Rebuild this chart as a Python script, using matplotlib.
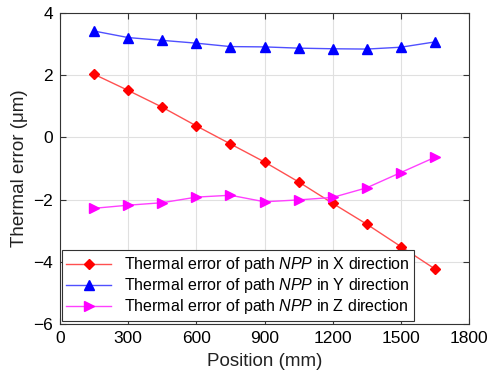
import matplotlib
matplotlib.use("Agg")
import matplotlib.pyplot as plt

plt.rcParams['font.family'] = ['Liberation Sans', 'DejaVu Sans']
plt.rcParams['mathtext.fontset'] = 'custom'
plt.rcParams['mathtext.it'] = 'Liberation Sans:italic'
plt.rcParams['mathtext.rm'] = 'Liberation Sans'

positions = [150, 300, 450, 600, 750, 900, 1050, 1200, 1350, 1500, 1650]
err_x = [2.03, 1.51, 0.97, 0.37, -0.21, -0.79, -1.43, -2.12, -2.79, -3.51, -4.23]
err_y = [3.42, 3.21, 3.12, 3.03, 2.92, 2.91, 2.87, 2.85, 2.84, 2.90, 3.07]
err_z = [-2.28, -2.18, -2.10, -1.92, -1.86, -2.07, -2.01, -1.93, -1.62, -1.13, -0.64]
labels = ["Thermal error of path $\\it{NPP}$ in X direction",
          "Thermal error of path $\\it{NPP}$ in Y direction",
          "Thermal error of path $\\it{NPP}$ in Z direction"]
xticks = [0, 300, 600, 900, 1200, 1500, 1800]
yticks = [-6, -4, -2, 0, 2, 4]

fig = plt.figure(figsize=(4.94, 3.81), dpi=100)
ax = fig.add_axes([60/494, 1-324/381, 409/494, 311/381])

ax.plot(positions, err_x, color='#ff5050', lw=1.0, marker='D', ms=5.5,
        mfc='red', mec='red', label=labels[0])
ax.plot(positions, err_y, color='#5050ff', lw=1.0, marker='^', ms=6.5,
        mfc='blue', mec='blue', label=labels[1])
ax.plot(positions, err_z, color='#ff40ff', lw=1.0, marker='>', ms=6.5,
        mfc='magenta', mec='magenta', label=labels[2])

ax.set_xlim(0, 1800)
ax.set_ylim(-6, 4)
ax.set_xticks(xticks)
ax.set_yticks(yticks)
ax.grid(True, color='#e0e0e0', lw=0.8)
ax.set_axisbelow(True)
ax.tick_params(direction='in', top=True, right=True, labelsize=12.5, length=4,
               color='#333333', pad=5)
for s in ax.spines.values():
    s.set_color('#333333')
    s.set_linewidth(0.8)
ax.set_xlabel('Position (mm)', fontsize=13.5, color='#222222', labelpad=5)
ax.set_ylabel('Thermal error (\u03bcm)', fontsize=13.5, color='#222222', labelpad=4)
leg = ax.legend(loc='lower left', bbox_to_anchor=(0.004, 0.01), fontsize=11.5,
                frameon=True, fancybox=False, edgecolor='#333333',
                framealpha=1, borderaxespad=0, handlelength=2.8,
                handletextpad=0.8, labelspacing=0.12, borderpad=0.3)
leg.get_frame().set_linewidth(0.8)

fig.savefig('out.png', dpi=100)
